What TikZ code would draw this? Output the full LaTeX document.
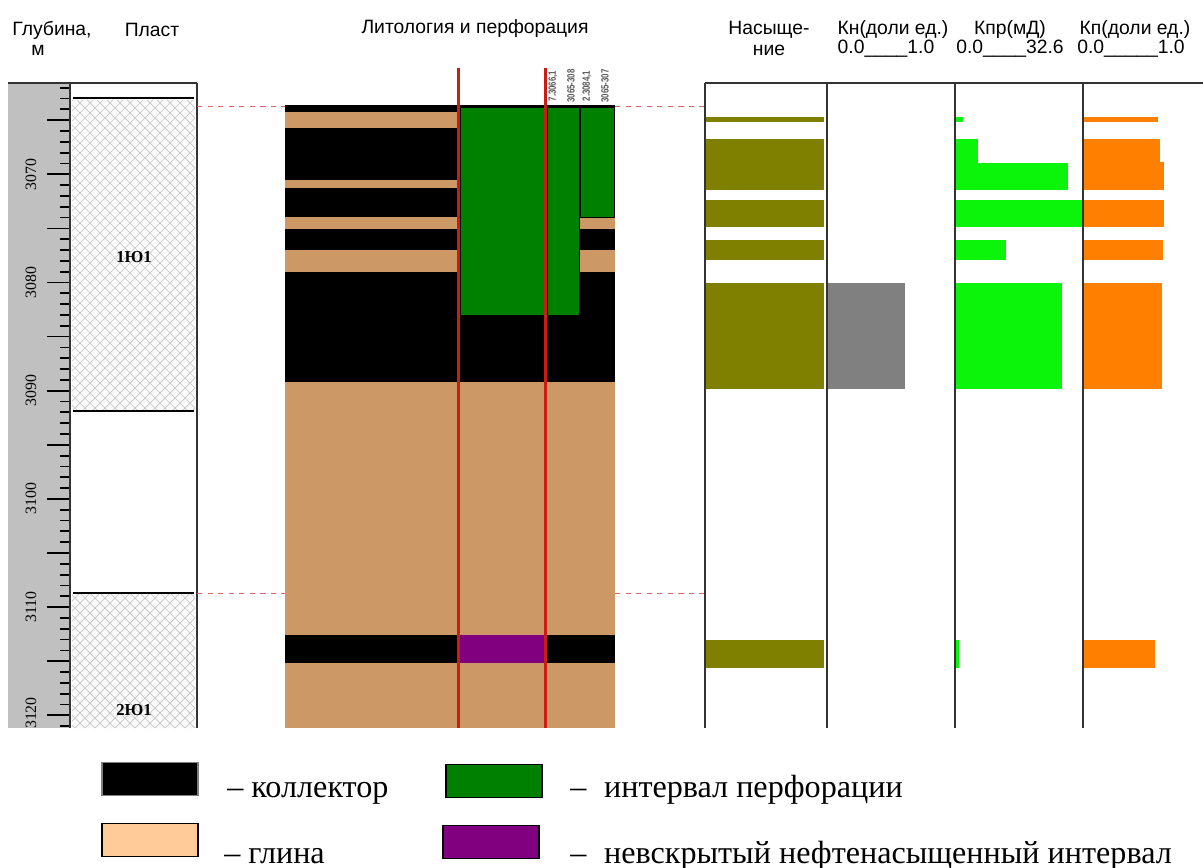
\documentclass[tikz,border=0pt]{standalone}
\usepackage{fontspec}
\setmainfont{Liberation Serif}
\newfontfamily\arialfont{Liberation Sans}
\usetikzlibrary{positioning}

\definecolor{claytan}{RGB}{204,153,102}
\definecolor{claylegend}{RGB}{255,204,153}
\definecolor{perfgreen}{RGB}{0,128,0}
\definecolor{oilpurple}{RGB}{128,0,128}
\definecolor{satolive}{RGB}{128,128,0}
\definecolor{kprgreen}{RGB}{10,245,10}
\definecolor{kporange}{RGB}{255,128,0}
\definecolor{wellred}{RGB}{200,30,20}
\definecolor{scalegray}{RGB}{192,192,192}
\definecolor{boundred}{RGB}{220,100,100}

\begin{document}
\begin{tikzpicture}[x=0.02cm, y=-0.02cm,
    header/.style={font=\arialfont\fontsize{11}{12}\selectfont, inner sep=0pt},
    legtext/.style={font=\fontsize{18.3}{20}\selectfont, anchor=base west, inner sep=0pt},
    swatch/.style={draw=black, line width=0.8pt, minimum width=1.92cm, minimum height=0.66cm, inner sep=0pt},
    bound/.style={dashed, boundred, line width=0.5pt},
    colline/.style={black!80, line width=0.7pt},
    perflabel/.style={font=\arialfont\bfseries\fontsize{6}{6}\selectfont, text=black!65, rotate=90, inner sep=0pt}]
    \useasboundingbox (0,0) rectangle (1203,868);

    % Headers
    \node[header] (hdrDepth) at (52,30) {Глубина,};
    \node[header] (hdrDepthUnit) at (38,50) {м};
    \node[header] (hdrPlast) at (152,30) {Пласт};
    \node[header] (hdrLith) at (475,29) {Литология и перфорация};
    \node[header] (hdrSat) at (769,30) {Насыще-};
    \node[header, below=0.12cm of hdrSat] (hdrSatB) {ние};
    \node[header] (hdrKn) at (893,30) {Кн(доли ед.)};
    \node[header] (hdrKnScale) at (886,49) {0.0\_\_\_\_1.0};
    \node[header] (hdrKpr) at (1010,30) {Кпр(мД)};
    \node[header] (hdrKprScale) at (1010,49) {0.0\_\_\_\_32.6};
    \node[header] (hdrKp) at (1135,30) {Кп(доли ед.)};
    \node[header] (hdrKpScale) at (1131,49) {0.0\_\_\_\_\_1.0};

    % Depth scale
    \fill[scalegray] (8,83) rectangle (70,728);
    \foreach \d in {3062,...,3121} {
        \pgfmathsetmacro{\yy}{174.3+(\d-3070)*10.82}
        \draw[line width=1pt] (60,\yy) -- (70,\yy);
    }
    \foreach \d in {3065,3070,...,3120} {
        \pgfmathsetmacro{\yy}{174.3+(\d-3070)*10.82}
        \draw[line width=1pt] (47,\yy) -- (70,\yy);
    }
    \foreach \d in {3070,3080,...,3110} {
        \pgfmathsetmacro{\yy}{174.3+(\d-3070)*10.82}
        \node[rotate=90, font=\fontsize{9}{10}\selectfont, inner sep=0pt] (d\d) at (31,\yy) {\d};
    }
    \node[rotate=90, font=\fontsize{9}{10}\selectfont, inner sep=0pt] (d3120) at (31,713) {3120};

    % Plast column
    \fill[green!3!gray!4] (72,100) rectangle (195,410);
    \fill[green!3!gray!4] (72,594) rectangle (195,728);
    \begin{scope}
        \clip (72,100) rectangle (195,410) (72,594) rectangle (195,728);
        \foreach \s in {-580,-570,...,840} {
            \draw[gray!45, line width=0.4pt] (\s,83) -- ++(645,645);
            \draw[gray!45, line width=0.4pt] (\s,83) -- ++(-645,645);
        }
    \end{scope}
    \foreach \yy in {98,411,593}
        \draw[line width=1.4pt] (73,\yy) -- (194,\yy);
    \draw[colline] (8,83) -- (197,83);
    \draw[colline] (70,83) -- (70,728);
    \draw[colline] (197,83) -- (197,728);
    \node[font=\fontsize{9.5}{10}\selectfont\bfseries, inner sep=0pt] (plastA) at (134,257) {1Ю1};
    \node[font=\fontsize{9.5}{10}\selectfont\bfseries, inner sep=0pt] (plastB) at (134,710) {2Ю1};

    % Boundaries carried over
    \foreach \yy in {106,593} {
        \draw[bound] (197,\yy) -- (285,\yy);
        \draw[bound] (615,\yy) -- (705,\yy);
    }

    % Lithology
    \fill[claytan] (285,105) rectangle (615,728);
    \foreach \ya/\yb in {105/112,128/180,188/217,229/250,272/382,635/663}
        \fill[black] (285,\ya) rectangle (615,\yb);

    % Perforation intervals
    \filldraw[perfgreen, draw=black, line width=0.4pt] (460,107) rectangle (545,315);
    \filldraw[perfgreen, draw=black, line width=0.4pt] (547,107) rectangle (579,315);
    \filldraw[perfgreen, draw=black, line width=0.4pt] (580,107) rectangle (614,217);
    \fill[oilpurple] (460,635) rectangle (545,663);
    \draw[wellred, line width=1.7pt] (458,68) -- (458,728);
    \draw[wellred, line width=1.7pt] (545,68) -- (545,728);
    \node[perflabel] (perfA) at (553,86) {\scalebox{0.75}[1]{7.3066,1}};
    \node[perflabel] (perfB) at (571,86) {\scalebox{0.75}[1]{3065-308}};
    \node[perflabel] (perfC) at (587,86) {\scalebox{0.75}[1]{2.3084,1}};
    \node[perflabel] (perfD) at (605,86) {\scalebox{0.75}[1]{3065-307}};

    % Saturation
    \foreach \ya/\yb in {117/122,139/190,200/227,240/260,283/389,640/668}
        \fill[satolive] (706,\ya) rectangle (824,\yb);

    % Kn
    \fill[gray] (828,283) rectangle (905,389);

    % Kpr
    \foreach \ya/\yb/\xb in {117/122/963,139/163/978,163/190/1068,200/227/1083,240/260/1006,283/389/1062,640/668/959}
        \fill[kprgreen] (956,\ya) rectangle (\xb,\yb);

    % Kp
    \foreach \ya/\yb/\xb in {117/122/1158,139/162/1160,162/190/1164,200/227/1164,240/260/1163,283/389/1162,640/668/1155}
        \fill[kporange] (1084,\ya) rectangle (\xb,\yb);

    % Log columns
    \draw[colline] (705,83) -- (1203,83);
    \foreach \xx in {705,827,955,1083}
        \draw[colline] (\xx,83) -- (\xx,728);

    % Legend
    \node[swatch, fill=black, draw=gray] (legCollector) at (150,779) {};
    \node[swatch, fill=claylegend] (legClay) at (150,840) {};
    \node[swatch, fill=perfgreen] (legPerf) at (494,781) {};
    \node[swatch, fill=oilpurple] (legOil) at (491,842) {};
    \node[legtext] (txtCollector) at (227,797) {– коллектор};
    \node[legtext] (txtClay) at (224,863) {– глина};
    \node[legtext] (txtPerf) at (570,797) {–\hspace{0.55em}интервал перфорации};
    \node[legtext] (txtOil) at (570,863) {–\hspace{0.55em}невскрытый нефтенасыщенный интервал};

\end{tikzpicture}
\end{document}
